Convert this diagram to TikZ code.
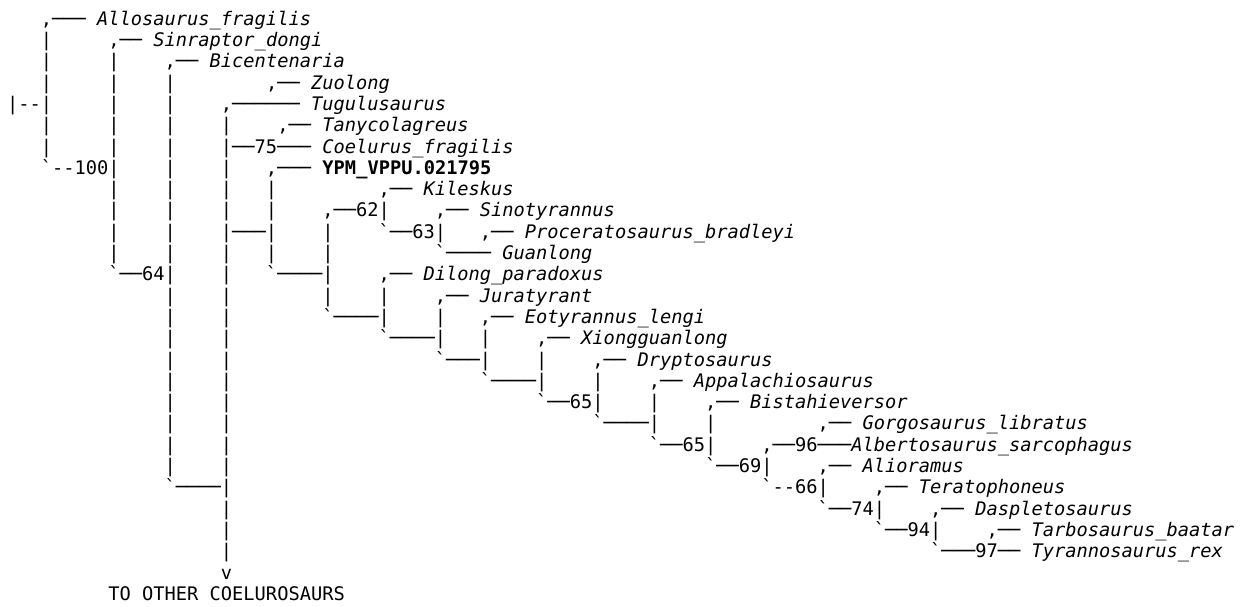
\documentclass[tikz,border=0pt]{standalone}
\usepackage{fontspec}
\setmonofont{DejaVu Sans Mono}[ItalicFont={DejaVu Sans Mono Oblique},BoldFont={DejaVu Sans Mono Bold}]
\newlength\cw
\setlength\cw{11.258pt}
\newcommand\sk[1]{\hspace*{#1\cw}}
\newcommand\I[1]{\textit{#1}}
\newcommand\B[1]{\textbf{#1}}
\tikzset{rowtxt/.style={anchor=base west,inner sep=0pt,outer sep=0pt,text=black,
  font=\ttfamily\fontsize{18.7}{21.3}\selectfont}}
\newcommand\trow[2]{\node[rowtxt] (r#1) at (7.07,{-25.3-21.296*#1}) {#2};}
\begin{document}
\begin{tikzpicture}[x=1pt,y=1pt]
\useasboundingbox[fill=white] (0,0) rectangle (1244,-607);
\trow{0}{\sk{3},───~\I{Allosaurus\_fragilis}}
\trow{1}{\sk{3}|\sk{5},──~\I{Sinraptor\_dongi}}
\trow{2}{\sk{3}|\sk{5}|\sk{4},──~\I{Bicentenaria}}
\trow{3}{\sk{3}|\sk{5}|\sk{4}|\sk{8},──~\I{Zuolong}}
\trow{4}{|--|\sk{5}|\sk{4}|\sk{4},──────~\I{Tugulusaurus}}
\trow{5}{\sk{3}|\sk{5}|\sk{4}|\sk{4}|\sk{4},──~\I{Tanycolagreus}}
\trow{6}{\sk{3}|\sk{5}|\sk{4}|\sk{4}|──75───~\I{Coelurus\_fragilis}}
\trow{7}{\sk{3}`--100|\sk{4}|\sk{4}|\sk{3},───~\B{YPM\_VPPU.021795}}
\trow{8}{\sk{9}|\sk{4}|\sk{4}|\sk{3}|\sk{9},──~\I{Kileskus}}
\trow{9}{\sk{9}|\sk{4}|\sk{4}|\sk{3}|\sk{4},──62|\sk{4},──~\I{Sinotyrannus}}
\trow{10}{\sk{9}|\sk{4}|\sk{4}|───|\sk{4}|\sk{4}`──63|\sk{3},──~\I{Proceratosaurus\_bradleyi}}
\trow{11}{\sk{9}|\sk{4}|\sk{4}|\sk{3}|\sk{4}|\sk{9}`────~\I{Guanlong}}
\trow{12}{\sk{9}`──64|\sk{4}|\sk{3}`────|\sk{4},──~\I{Dilong\_paradoxus}}
\trow{13}{\sk{14}|\sk{4}|\sk{8}|\sk{4}|\sk{4},──~\I{Juratyrant}}
\trow{14}{\sk{14}|\sk{4}|\sk{8}`────|\sk{4}|\sk{3},──~\I{Eotyrannus\_lengi}}
\trow{15}{\sk{14}|\sk{4}|\sk{13}`────|\sk{3}|\sk{4},──~\I{Xiongguanlong}}
\trow{16}{\sk{14}|\sk{4}|\sk{18}`───|\sk{4}|\sk{4},──~\I{Dryptosaurus}}
\trow{17}{\sk{14}|\sk{4}|\sk{22}`────|\sk{4}|\sk{4},──~\I{Appalachiosaurus}}
\trow{18}{\sk{14}|\sk{4}|\sk{27}`──65|\sk{4}|\sk{4},──~\I{Bistahieversor}}
\trow{19}{\sk{14}|\sk{4}|\sk{32}`────|\sk{4}|\sk{9},──~\I{Gorgosaurus\_libratus}}
\trow{20}{\sk{14}|\sk{4}|\sk{37}`──65|\sk{4},──96───\I{Albertosaurus\_sarcophagus}}
\trow{21}{\sk{14}|\sk{4}|\sk{42}`──69|\sk{4},──~\I{Alioramus}}
\trow{22}{\sk{14}`────|\sk{47}`--66|\sk{4},──~\I{Teratophoneus}}
\trow{23}{\sk{19}|\sk{52}`──74|\sk{4},──~\I{Daspletosaurus}}
\trow{24}{\sk{19}|\sk{57}`──94|\sk{4},──~\I{Tarbosaurus\_baatar}}
\trow{25}{\sk{19}|\sk{62}`───97──~\I{Tyrannosaurus\_rex}}
\trow{26}{\sk{19}v}
\trow{27}{\sk{9}TO~OTHER~COELUROSAURS}
\end{tikzpicture}
\end{document}
